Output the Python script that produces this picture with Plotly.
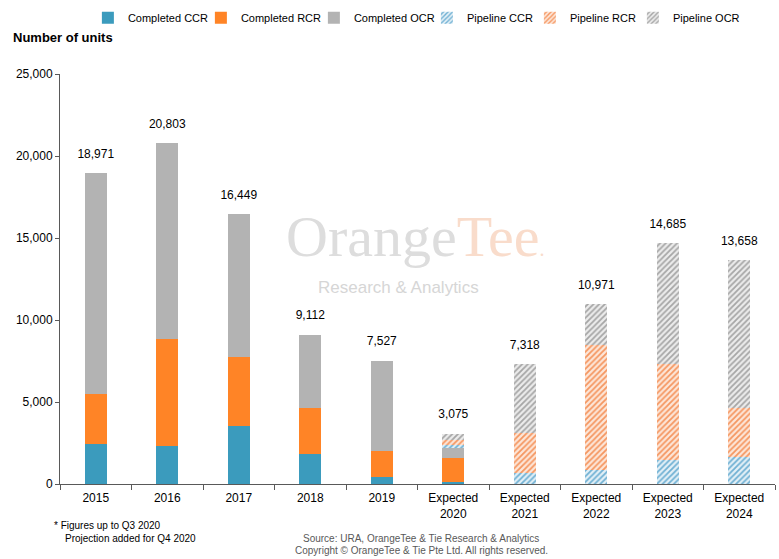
import plotly.graph_objects as go

categories = ["2015", "2016", "2017", "2018", "2019",
              "Expected<br>2020", "Expected<br>2021", "Expected<br>2022",
              "Expected<br>2023", "Expected<br>2024"]

completed_ccr = [2430, 2310, 3530, 1830, 430, 110, 0, 0, 0, 0]
completed_rcr = [3044, 6510, 4195, 2793, 1577, 1450, 0, 0, 0, 0]
completed_ocr = [13497, 11983, 8724, 4489, 5520, 650, 0, 0, 0, 0]
pipeline_ccr = [0, 0, 0, 0, 0, 150, 690, 850, 1460, 1620]
pipeline_rcr = [0, 0, 0, 0, 0, 350, 2430, 7605, 5880, 3020]
pipeline_ocr = [0, 0, 0, 0, 0, 365, 4198, 2516, 7345, 9018]

y_ticks = [0, 5000, 10000, 15000, 20000, 25000]

totals = [a + b + c + d + e + f for a, b, c, d, e, f in zip(
    completed_ccr, completed_rcr, completed_ocr, pipeline_ccr, pipeline_rcr, pipeline_ocr)]

FONT = "Liberation Sans, Arial, sans-serif"

fig = go.Figure()

solid = [("Completed CCR", completed_ccr, "#3b9bbd", 68),
         ("Completed RCR", completed_rcr, "#ff8426", 68),
         ("Completed OCR", completed_ocr, "#b3b3b3", 68)]
for name, vals, col, lw in solid:
    fig.add_trace(go.Bar(x=categories, y=vals, name=name, legendwidth=lw,
                         marker=dict(color=col, line=dict(width=0))))

hatched = [("Pipeline CCR", pipeline_ccr, "#6fb0d3", "#e3f0f7", 58),
           ("Pipeline RCR", pipeline_rcr, "#f59660", "#fde6d8", 58),
           ("Pipeline OCR", pipeline_ocr, "#a6a6a6", "#ececec", 76)]
for name, vals, fg, bg, lw in hatched:
    fig.add_trace(go.Bar(x=categories, y=vals, name=name, legendwidth=lw,
                         marker=dict(color=bg, line=dict(width=0),
                                     pattern=dict(shape="/", fgcolor=fg, bgcolor=bg,
                                                  size=4, solidity=0.45, fillmode="replace"))))

fig.add_trace(go.Scatter(x=categories, y=totals, mode="markers+text",
                         marker=dict(size=18, opacity=0),
                         text=[f"{t:,}" for t in totals], textposition="top center",
                         textfont=dict(size=12, color="#000000", family=FONT),
                         showlegend=False, hoverinfo="skip"))

fig.update_layout(
    width=779, height=559,
    margin=dict(l=60, r=4, t=73, b=75),
    barmode="stack", bargap=0.69,
    plot_bgcolor="white", paper_bgcolor="white",
    font=dict(family=FONT, size=12, color="#000000"),
    legend=dict(orientation="h", x=0.039, xanchor="left", y=1.17, yanchor="top",
                font=dict(size=11, family=FONT), itemwidth=30, traceorder="normal",
                itemclick=False),
    showlegend=True,
)

fig.update_yaxes(range=[0, 25000], tickvals=y_ticks, tickformat=",",
                 showgrid=False, zeroline=False,
                 showline=True, linecolor="#595959", linewidth=1,
                 ticks="outside", ticklen=4, tickcolor="#595959",
                 tickfont=dict(size=12, color="#000000"))
fig.update_xaxes(range=[-0.5, 9.5], autorange=False,
                 showgrid=False, showline=True, linecolor="#595959", linewidth=1,
                 ticks="outside", tickson="boundaries", ticklen=5, tickcolor="#595959",
                 ticklabelstandoff=3,
                 tickfont=dict(size=12, color="#000000"))

# y-axis title
fig.add_annotation(text="<b>Number of units</b>", xref="paper", yref="paper",
                   x=-0.068, y=1.088, xanchor="left", yanchor="middle", showarrow=False,
                   font=dict(size=13, color="#000000", family=FONT))

# watermark
fig.add_annotation(text='<span style="color:#dddddd">Orange</span><span style="color:#f9dccb">Tee</span><span style="color:#f9dccb;font-size:20px">.</span>',
                   xref="paper", yref="paper", x=0.497, y=0.603, xanchor="center", yanchor="middle",
                   showarrow=False, font=dict(size=58, family="Liberation Serif, Times New Roman, serif"))
fig.add_annotation(text="Research &amp; Analytics", xref="paper", yref="paper",
                   x=0.473, y=0.48, xanchor="center", yanchor="middle", showarrow=False,
                   font=dict(size=17, color="#d6d6d6", family=FONT))

# footnotes
fig.add_annotation(text="* Figures up to Q3 2020", xref="paper", yref="paper",
                   x=-0.011, y=-0.1, xanchor="left", yanchor="middle", showarrow=False,
                   font=dict(size=10, color="#000000", family=FONT))
fig.add_annotation(text="Projection added for Q4 2020", xref="paper", yref="paper",
                   x=0.004, y=-0.134, xanchor="left", yanchor="middle", showarrow=False,
                   font=dict(size=10, color="#000000", family=FONT))
fig.add_annotation(text="Source: URA, OrangeTee &amp; Tie Research &amp; Analytics", xref="paper", yref="paper",
                   x=0.505, y=-0.134, xanchor="center", yanchor="middle", showarrow=False,
                   font=dict(size=10, color="#595959", family=FONT))
fig.add_annotation(text="Copyright © OrangeTee &amp; Tie Pte Ltd. All rights reserved.", xref="paper", yref="paper",
                   x=0.505, y=-0.163, xanchor="center", yanchor="middle", showarrow=False,
                   font=dict(size=10, color="#595959", family=FONT))

fig.write_html("out.html")
